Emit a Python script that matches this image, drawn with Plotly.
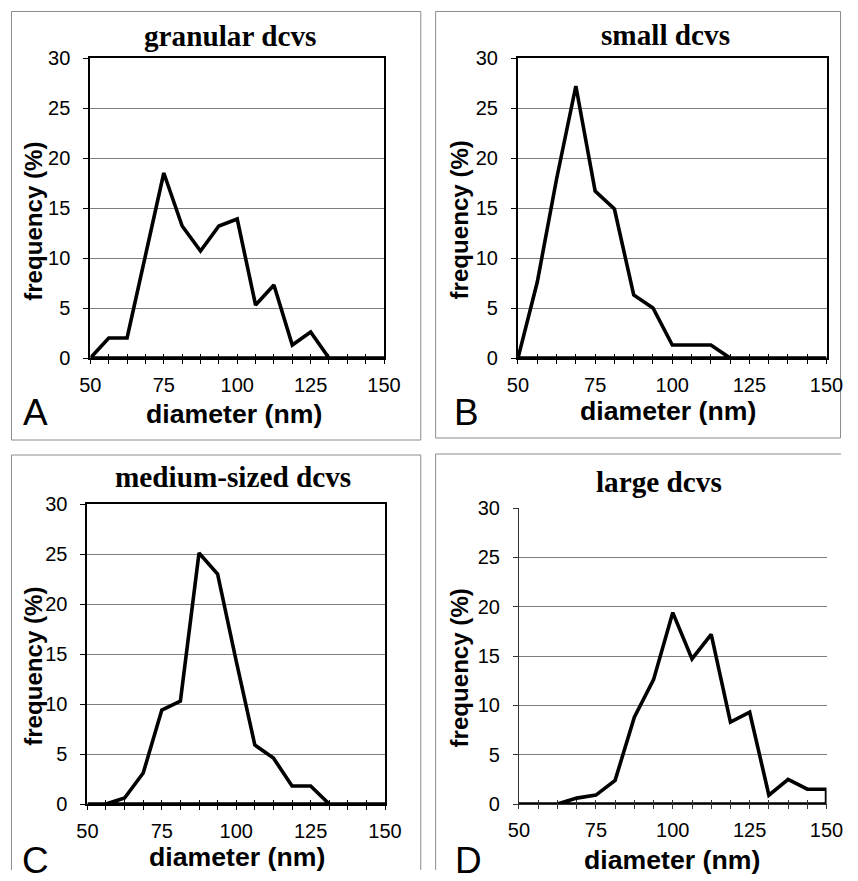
import plotly.graph_objects as go

# ---------------- data ----------------
diameters = [50, 56.25, 62.5, 68.75, 75, 81.25, 87.5, 93.75, 100,
             106.25, 112.5, 118.75, 125, 131.25, 137.5, 143.75, 150]
granular = [0, 2.0, 2.0, 10.2, 18.5, 13.2, 10.7, 13.2, 13.9, 5.3, 7.3, 1.3, 2.6, 0, 0, 0, 0]
small = [0, 7.6, 17.9, 27.2, 16.7, 14.9, 6.3, 5.0, 1.3, 1.3, 1.3, 0, 0, 0, 0, 0, 0]
medium = [0, 0, 0.6, 3.1, 9.4, 10.3, 25.1, 23.0, 14.3, 5.9, 4.6, 1.8, 1.8, 0, 0, 0, 0]
large = [0, 0, 0, 0.6, 0.9, 2.4, 8.8, 12.6, 19.4, 14.7, 17.2, 8.3, 9.3, 0.9, 2.5, 1.5, 1.5]

titles = ["granular dcvs", "small dcvs", "medium-sized dcvs", "large dcvs"]
letters = ["A", "B", "C", "D"]
x_ticks = [50, 75, 100, 125, 150]
y_ticks = [0, 5, 10, 15, 20, 25, 30]
grid_vals = [5, 10, 15, 20, 25]
x_title = "diameter (nm)"
y_title = "frequency (%)"

# ---------------- layout geometry ----------------
W, H = 858, 881
# the captured picture shows the page slightly shrunk and shifted; positions below
# are given in target-picture pixels and converted to figure pixels
OFF, SC = 10.0, 0.975

def fpx(v):
    return (v - OFF) / SC

def px(x):
    return min(max(fpx(x), 0.5), W - 0.5) / W

def py(y):
    return 1 - min(max(fpx(y), 0.5), H - 0.5) / H

def fs(size):
    return size / SC

panels = [
    dict(vals=granular, plot=(90, 386, 57, 357), box=(7, 423, 7, 439),
         tpos=(231, 35), xpos=(235, 413), ypos=(32, 220), lpos=(35, 411), frame=True),
    dict(vals=small, plot=(521, 832, 57, 357), box=(438, 854, 8, 437),
         tpos=(670, 34), xpos=(672, 410), ypos=(462, 219), lpos=(469, 411), frame=True),
    dict(vals=medium, plot=(87, 387, 503, 803), box=(7, 423, 454, None),
         tpos=(234, 476), xpos=(238, 856), ypos=(32, 665), lpos=(35, 859), frame=True),
    dict(vals=large, plot=(522, 832, 507, 803), box=(438, None, 453, None),
         tpos=(663, 481), xpos=(676, 859), ypos=(462, 667), lpos=(471, 859), frame=False),
]

fig = go.Figure()
layout = dict(width=W, height=H, margin=dict(l=0, r=0, t=0, b=0), autosize=False,
              paper_bgcolor="white", plot_bgcolor="white", showlegend=False,
              shapes=[], annotations=[])

tick_font = dict(family="Liberation Sans, Arial", size=fs(19.5), color="black")

for i, p in enumerate(panels):
    n = i + 1
    xa = "x" if n == 1 else f"x{n}"
    ya = "y" if n == 1 else f"y{n}"
    ov = f"x{n + 4}"
    x0, x1, y0, y1 = p["plot"]
    xdom = [px(x0), px(x1)]
    ydom = [py(y1), py(y0)]
    frame = p["frame"]
    lc = "black" if frame else "#333333"
    lw = 2 if frame else 1

    xs = diameters + [diameters[-1], diameters[0]]
    ys = p["vals"] + [0, 0]
    fig.add_trace(go.Scatter(x=xs, y=ys, mode="lines", xaxis=xa, yaxis=ya,
                             line=dict(color="black", width=3.6),
                             hoverinfo="skip", cliponaxis=False))
    # invisible trace to instantiate the overlay tick axis
    fig.add_trace(go.Scatter(x=[diameters[0]], y=[0], mode="markers", xaxis=ov, yaxis=ya,
                             marker=dict(opacity=0), hoverinfo="skip"))

    layout[f"xaxis{n}"] = dict(
        domain=xdom, anchor=ya, range=[50, 150], tickmode="array", tickvals=x_ticks,
        ticks="outside", ticklen=4, tickwidth=1, tickcolor=lc,
        minor=dict(tickmode="array", tickvals=diameters, ticks="outside", ticklen=4,
                   tickwidth=1, tickcolor=lc, showgrid=False),
        showgrid=False, zeroline=False, showline=True, linecolor=lc, linewidth=lw,
        mirror=frame, tickfont=tick_font, ticklabelstandoff=4, layer="above traces")
    layout[f"xaxis{n + 4}"] = dict(
        domain=xdom, anchor=ya, overlaying=xa, range=[50, 150], tickmode="array",
        tickvals=diameters, ticks="inside", ticklen=4, tickwidth=1, tickcolor=lc,
        showticklabels=False, showgrid=False, zeroline=False, showline=False)
    layout[f"yaxis{n}"] = dict(
        domain=ydom, anchor=xa, range=[0, 30], tickmode="array", tickvals=y_ticks,
        ticks="outside", ticklen=5, tickwidth=1, tickcolor=lc,
        showgrid=False, zeroline=False, showline=True, linecolor=lc, linewidth=lw,
        mirror=frame, tickfont=tick_font, ticklabelstandoff=9,
        minor=dict(tickmode="array", tickvals=grid_vals, showgrid=True,
                   gridcolor="#7f7f7f", gridwidth=1, ticks=""),
        layer="above traces")

    # panel frame (open where it runs off the page)
    bl, br, bt, bb = p["box"]
    L, T = px(bl), py(bt)
    R = px(br) if br is not None else 1.0
    B = py(bb) if bb is not None else 0.0
    path = f"M {L},{B} L {L},{T} L {R},{T}"
    if br is not None:
        path += f" L {R},{B}"
        if bb is not None:
            path += " Z"
    layout["shapes"].append(dict(type="path", xref="paper", yref="paper", path=path,
                                 line=dict(color="#8c8c8c", width=1), layer="below"))

    layout["annotations"] += [
        dict(text=f"<b>{titles[i]}</b>", x=px(p["tpos"][0]), y=py(p["tpos"][1]),
             xref="paper", yref="paper", showarrow=False, xanchor="center", yanchor="middle",
             font=dict(family="Liberation Serif, Times New Roman", size=fs(28.5), color="black")),
        dict(text=f"<b>{x_title}</b>", x=px(p["xpos"][0]), y=py(p["xpos"][1]),
             xref="paper", yref="paper", showarrow=False, xanchor="center", yanchor="middle",
             font=dict(family="Liberation Sans, Arial", size=fs(26), color="black")),
        dict(text=f"<b>{y_title}</b>", x=px(p["ypos"][0]), y=py(p["ypos"][1]),
             xref="paper", yref="paper", showarrow=False, xanchor="center", yanchor="middle",
             textangle=-90,
             font=dict(family="Liberation Sans, Arial", size=fs(23.5), color="black")),
        dict(text=letters[i], x=px(p["lpos"][0]), y=py(p["lpos"][1]),
             xref="paper", yref="paper", showarrow=False, xanchor="center", yanchor="middle",
             font=dict(family="Liberation Sans, Arial", size=fs(36), color="black")),
    ]

fig.update_layout(**layout)
fig.write_html("out.html")
